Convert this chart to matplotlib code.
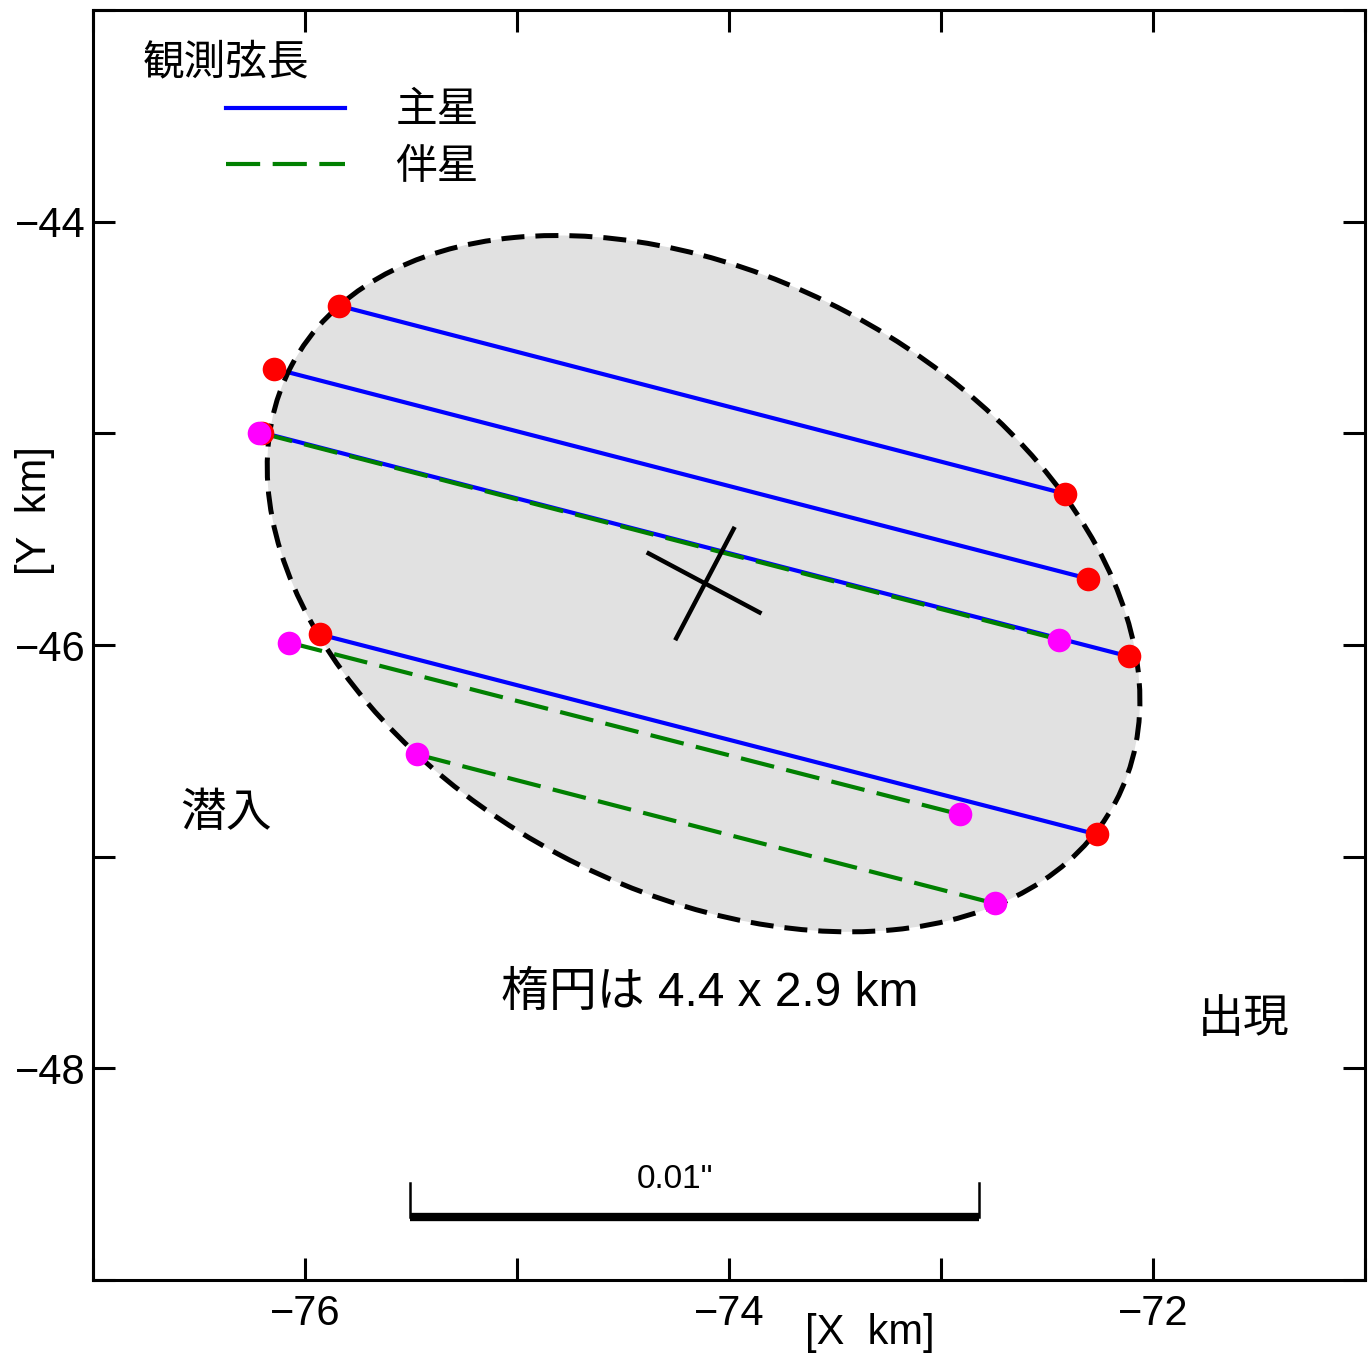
import matplotlib
matplotlib.use("Agg")
import matplotlib.pyplot as plt
from matplotlib.patches import Ellipse
from matplotlib.ticker import MultipleLocator

plt.rcParams["font.family"] = ["Liberation Sans", "Noto Sans CJK JP"]

# fitted ellipse
ell_center = (-74.12, -45.71)
ell_width = 4.4
ell_height = 2.9
ell_angle = -28.0

# primary star chords: start / end points (km)
prim_x0 = [-75.839, -76.146, -76.203, -75.929]
prim_y0 = [-44.397, -44.694, -44.996, -45.950]
prim_x1 = [-72.416, -72.307, -72.113, -72.264]
prim_y1 = [-45.285, -45.686, -46.054, -46.895]

# companion chords
comp_x0 = [-76.217, -76.076, -75.471]
comp_y0 = [-44.996, -45.988, -46.517]
comp_x1 = [-72.444, -72.911, -72.746]
comp_y1 = [-45.974, -46.800, -47.221]

# centre cross (two arms)
cross_x = [[-74.379, -73.856], [-73.978, -74.249]]
cross_y = [[-45.567, -45.846], [-45.451, -45.968]]

# 0.01" scale bar
scale_x = [-75.504, -72.822]
scale_y = -48.70
scale_top = -48.54
scale_label = '0.01"'

fig = plt.figure(figsize=(13.68, 13.59), dpi=100)
ax = fig.add_axes([0.068, 0.0581, 0.9298, 0.9345])

ax.add_patch(Ellipse(ell_center, ell_width, ell_height, angle=ell_angle,
                     facecolor="#e1e1e1", edgecolor="none", zorder=1))
ax.add_patch(Ellipse(ell_center, ell_width, ell_height, angle=ell_angle,
                     fill=False, edgecolor="black", lw=3.6,
                     linestyle=(0, (4.6, 2.2)), zorder=3))

for i in range(len(prim_x0)):
    ax.plot([prim_x0[i], prim_x1[i]], [prim_y0[i], prim_y1[i]],
            color="blue", lw=3.0, zorder=2,
            label="主星" if i == 0 else None)
for i in range(len(comp_x0)):
    ax.plot([comp_x0[i], comp_x1[i]], [comp_y0[i], comp_y1[i]],
            color="green", lw=3.0, linestyle=(0, (8.2, 3)), zorder=2.5,
            label="伴星" if i == 0 else None)

for cx, cy in zip(cross_x, cross_y):
    ax.plot(cx, cy, color="black", lw=3.2, zorder=2.7)

ax.plot(prim_x0 + prim_x1, prim_y0 + prim_y1, "o", color="red",
        markersize=17, markeredgewidth=0, zorder=4)
ax.plot(comp_x0 + comp_x1, comp_y0 + comp_y1, "o", color="magenta",
        markersize=17, markeredgewidth=0, zorder=5)

# scale bar
ax.plot(scale_x, [scale_y, scale_y], color="black", lw=6, solid_capstyle="butt")
for sx in scale_x:
    ax.plot([sx, sx], [scale_y, scale_top], color="black", lw=1.8)
ax.text(-74.257, scale_top + 0.015, scale_label, fontsize=24,
        ha="center", va="center")

# annotations
ax.text(-74.09, -47.645, "楕円は 4.4 x 2.9 km", fontsize=34.5,
        ha="center", va="center")
ax.text(-76.37, -46.80, "潜入", fontsize=33, ha="center", va="center")
ax.text(-71.57, -47.77, "出現", fontsize=33, ha="center", va="center")

ax.text(0.039, 0.958, "観測弦長", fontsize=30, ha="left", va="center",
        transform=ax.transAxes)
ax.legend(loc="upper left", bbox_to_anchor=(0.1046, 0.936), frameon=False,
          fontsize=30, handlelength=2.86, handletextpad=1.2,
          borderpad=0, borderaxespad=0, labelspacing=0.4)

ax.set_xlim(-77, -71)
ax.set_ylim(-49, -43)
ax.xaxis.set_major_locator(MultipleLocator(2))
ax.yaxis.set_major_locator(MultipleLocator(2))
ax.xaxis.set_minor_locator(MultipleLocator(1))
ax.yaxis.set_minor_locator(MultipleLocator(1))
ax.tick_params(which="both", direction="in", length=16, width=2.2,
               top=True, right=True, labelsize=30)
ax.tick_params(axis="x", pad=10)
ax.tick_params(axis="y", pad=5)
for s in ax.spines.values():
    s.set_linewidth(2.2)

ax.text(0.611, -0.0415, "[X  km]", fontsize=30, ha="center", va="center",
        transform=ax.transAxes)
ax.text(-0.0456, 0.606, "[Y  km]", fontsize=30, ha="center", va="center",
        rotation=90, transform=ax.transAxes)

fig.savefig("out.png", dpi=100)
